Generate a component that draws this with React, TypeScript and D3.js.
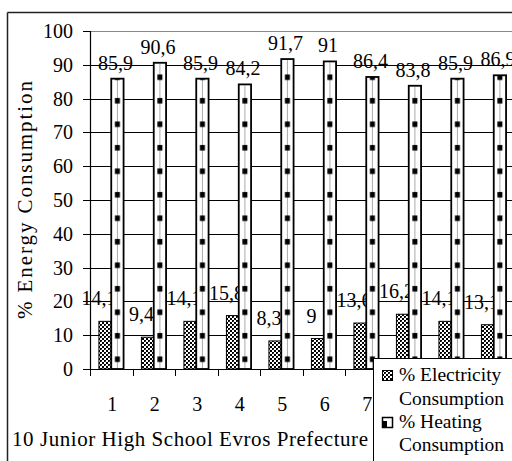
import React from "react";
import * as d3 from "d3";

const categories = ["1", "2", "3", "4", "5", "6", "7", "8", "9", "10"];
const electricity = [14.1, 9.4, 14.1, 15.8, 8.3, 9, 13.6, 16.2, 14.1, 13.1];
const heating = [85.9, 90.6, 85.9, 84.2, 91.7, 91, 86.4, 83.8, 85.9, 86.9];
const yTicks = [0, 10, 20, 30, 40, 50, 60, 70, 80, 90, 100];
const seriesNames = ["% Electricity", "% Heating"];
const xTitle = "10 Junior High School Evros Prefecture";
const yTitle = "% Energy Consumption";

const W = 512;
const H = 461;
const FONT = "Liberation Serif";
const fmt = (v: number) => String(v).replace(".", ",");

export default function App() {
  const left = 90;
  const step = 42.5;
  const x = d3
    .scaleBand<string>()
    .domain(categories)
    .range([left, left + step * categories.length])
    .padding(0);
  const y = d3.scaleLinear().domain([0, 100]).range([369, 31]);
  const barW = x.bandwidth() * 0.29;
  const cx = (c: string) => (x(c) as number) + x.bandwidth() / 2;

  return (
    <div style={{ position: "fixed", left: 0, top: 0, width: W, height: H, overflow: "hidden", background: "#fff" }}>
      <svg width={W} height={H} style={{ display: "block" }} fontFamily={FONT}>
        <defs>
          <pattern id="elec" patternUnits="userSpaceOnUse" width={4} height={4}>
            <rect width={4} height={4} fill="#fff" />
            <rect x={0} y={0} width={2} height={2} fill="#000" />
            <rect x={2} y={2} width={2} height={2} fill="#000" />
            <rect x={1} y={1} width={1} height={1} fill="#444" />
          </pattern>
          <pattern id="heat" patternUnits="userSpaceOnUse" x={left} y={0} width={step} height={23.5}>
            <rect x={x.bandwidth() / 2 + barW / 2 - 2.5} y={4} width={5} height={5.5} fill="#000" />
          </pattern>
        </defs>
        <rect x={0} y={0} width={W} height={H} fill="#fff" />
        {/* outer frame */}
        <line x1={7.5} y1={12.5} x2={W} y2={12.5} stroke="#222" strokeWidth={1.5} />
        <line x1={7.5} y1={12.5} x2={7.5} y2={H} stroke="#222" strokeWidth={1.5} />

        {/* gridlines */}
        {yTicks.slice(1).map((t) => (
          <line
            key={"g" + t}
            x1={left}
            x2={W}
            y1={Math.round(y(t)) + 0.5}
            y2={Math.round(y(t)) + 0.5}
            stroke={t === 100 ? "#888" : "#000"}
            strokeWidth={1}
          />
        ))}

        {/* electricity bars */}
        {categories.map((c, i) => (
          <rect
            key={"e" + c}
            x={cx(c) - barW}
            y={y(electricity[i])}
            width={barW}
            height={y(0) - y(electricity[i])}
            fill="url(#elec)"
            stroke="#000"
            strokeWidth={1}
          />
        ))}
        {categories.map((c, i) => (
          <text
            key={"el" + c}
            x={cx(c) - barW / 2 - 6}
            y={y(electricity[i]) - 16}
            textAnchor="middle"
            fontSize={20}
            fontFamily={FONT}
            fill="#000"
          >
            {fmt(electricity[i])}
          </text>
        ))}

        {/* heating bars */}
        {categories.map((c, i) => (
          <g key={"h" + c}>
            <rect
              x={cx(c)}
              y={y(heating[i])}
              width={barW}
              height={y(0) - y(heating[i])}
              fill="#fff"
            />
            <line
              x1={cx(c) + barW / 2}
              x2={cx(c) + barW / 2}
              y1={y(heating[i]) + 1}
              y2={y(0)}
              stroke="#aaa"
              strokeWidth={1}
            />
            <rect
              x={cx(c)}
              y={y(heating[i])}
              width={barW}
              height={y(0) - y(heating[i])}
              fill="url(#heat)"
              stroke="#000"
              strokeWidth={1.8}
            />
          </g>
        ))}
        {categories.map((c, i) => (
          <text
            key={"hl" + c}
            x={cx(c) + barW / 2 - 2}
            y={y(heating[i]) - 9}
            textAnchor="middle"
            fontSize={20}
            fontFamily={FONT}
            fill="#000"
          >
            {fmt(heating[i])}
          </text>
        ))}

        {/* y axis */}
        <line x1={left + 0.5} x2={left + 0.5} y1={y(100)} y2={y(0)} stroke="#000" strokeWidth={1.2} />
        {yTicks.map((t) => (
          <g key={"yt" + t}>
            <line x1={83} x2={left} y1={Math.round(y(t)) + 0.5} y2={Math.round(y(t)) + 0.5} stroke="#000" />
            <text x={73} y={y(t) + 7} textAnchor="end" fontSize={20} fontFamily={FONT} fill="#000">
              {t}
            </text>
          </g>
        ))}

        {/* x axis */}
        <line x1={left} x2={W} y1={Math.round(y(0)) + 0.5} y2={Math.round(y(0)) + 0.5} stroke="#000" strokeWidth={1.2} />
        {categories.map((c) => (
          <line
            key={"xt" + c}
            x1={Math.round(x(c) as number) + 0.5}
            x2={Math.round(x(c) as number) + 0.5}
            y1={y(0)}
            y2={y(0) + 7}
            stroke="#000"
          />
        ))}
        {categories.map((c) => (
          <text key={"xl" + c} x={cx(c) + 1} y={411} textAnchor="middle" fontSize={20} fontFamily={FONT} fill="#000">
            {c}
          </text>
        ))}

        {/* axis titles */}
        <text x={12} y={446} fontSize={21} fontFamily={FONT} textLength={356} lengthAdjust="spacing" fill="#000">
          {xTitle}
        </text>
        <text
          transform="translate(32,200) rotate(-90)"
          textAnchor="middle"
          fontSize={21}
          fontFamily={FONT}
          textLength={238}
          lengthAdjust="spacing"
          fill="#000"
        >
          {yTitle}
        </text>

        {/* legend */}
        <g fontFamily={FONT}>
          <rect x={373.5} y={358.5} width={200} height={200} fill="#fff" stroke="#000" strokeWidth={1} />
          <rect x={382.5} y={370.5} width={10} height={10} fill="url(#elec)" stroke="#000" />
          <text x={399} y={381} fontSize={19.5} fill="#000">{seriesNames[0]}</text>
          <text x={399} y={405} fontSize={19.5} fill="#000">Consumption</text>
          <rect x={382.5} y={417.5} width={10} height={10} fill="#fff" stroke="#000" strokeWidth={1.5} />
          <rect x={383} y={421} width={4} height={6} fill="#000" />
          <text x={399} y={428} fontSize={19.5} fill="#000">{seriesNames[1]}</text>
          <text x={399} y={451} fontSize={19.5} fill="#000">Consumption</text>
        </g>
      </svg>
    </div>
  );
}
